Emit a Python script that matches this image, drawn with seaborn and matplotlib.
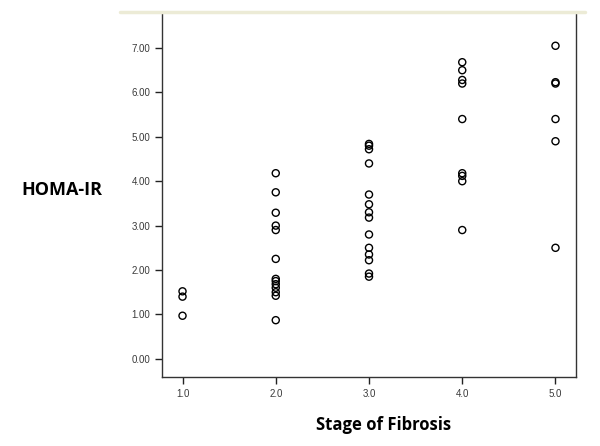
import pandas as pd
import matplotlib.pyplot as plt
import seaborn as sns
from matplotlib.lines import Line2D

# HOMA-IR by stage of fibrosis
stage1 = [1.52, 1.40, 0.97]
stage2 = [4.18, 3.75, 3.29, 3.00, 2.90, 2.25, 1.80, 1.75, 1.68, 1.60, 1.50, 1.42, 0.87]
stage3 = [4.84, 4.80, 4.72, 4.40, 3.70, 3.48, 3.30, 3.18, 2.80, 2.50, 2.35, 2.22, 1.92, 1.85]
stage4 = [6.68, 6.50, 6.28, 6.20, 5.40, 4.18, 4.12, 4.00, 2.90]
stage5 = [7.05, 6.23, 6.20, 5.40, 4.90, 2.50]
stages = [1.0, 2.0, 3.0, 4.0, 5.0]
y_ticks = [0, 1, 2, 3, 4, 5, 6, 7]

rows = []
for st, vals in zip(stages, [stage1, stage2, stage3, stage4, stage5]):
    for v in vals:
        rows.append({'stage': st, 'homa': v})
df = pd.DataFrame(rows)

sns.set_style('white')
plt.rcParams['font.family'] = ['Liberation Sans', 'DejaVu Sans']
fig = plt.figure(figsize=(6, 4.46), dpi=100)
ax = fig.add_axes([0.27, 0.1547, 0.69, 0.8163])

sns.scatterplot(x='stage', y='homa', data=df, ax=ax, marker='o', s=26,
                facecolor='none', edgecolor='black', linewidth=1.0)

ax.set_xlim(0.78, 5.22)
ax.set_ylim(-0.41, 7.79)
ax.set_xticks(stages)
ax.set_xticklabels(['%.1f' % s for s in stages])
ax.set_yticks(y_ticks)
ax.set_yticklabels(['%.2f' % t for t in y_ticks])
ax.tick_params(axis='both', direction='out', length=5, width=1, colors='#222222',
               labelsize=7, labelcolor='#3a3a3a', left=True, bottom=True)
ax.set_xlabel('')
ax.set_ylabel('')

for side in ['left', 'bottom', 'right']:
    ax.spines[side].set_visible(True)
    ax.spines[side].set_color('#333333')
    ax.spines[side].set_linewidth(1.0)
ax.spines['top'].set_visible(False)

# pale line across the top of the plot frame
fig.add_artist(Line2D([120 / 600, 585 / 600], [1 - 12 / 446, 1 - 12 / 446],
                      color='#ecebd6', linewidth=2.5))

fig.text(62 / 600, 1 - 190 / 446, 'HOMA-IR', ha='center', va='center', color='black',
         fontsize=13, fontweight='bold', family=['Open Sans', 'DejaVu Sans'])
fig.text(384 / 600, 1 - 425 / 446, 'Stage of Fibrosis', ha='center', va='center',
         color='black', fontsize=12, fontweight='bold',
         family=['Open Sans', 'DejaVu Sans'])

fig.savefig('out.png', dpi=100)
